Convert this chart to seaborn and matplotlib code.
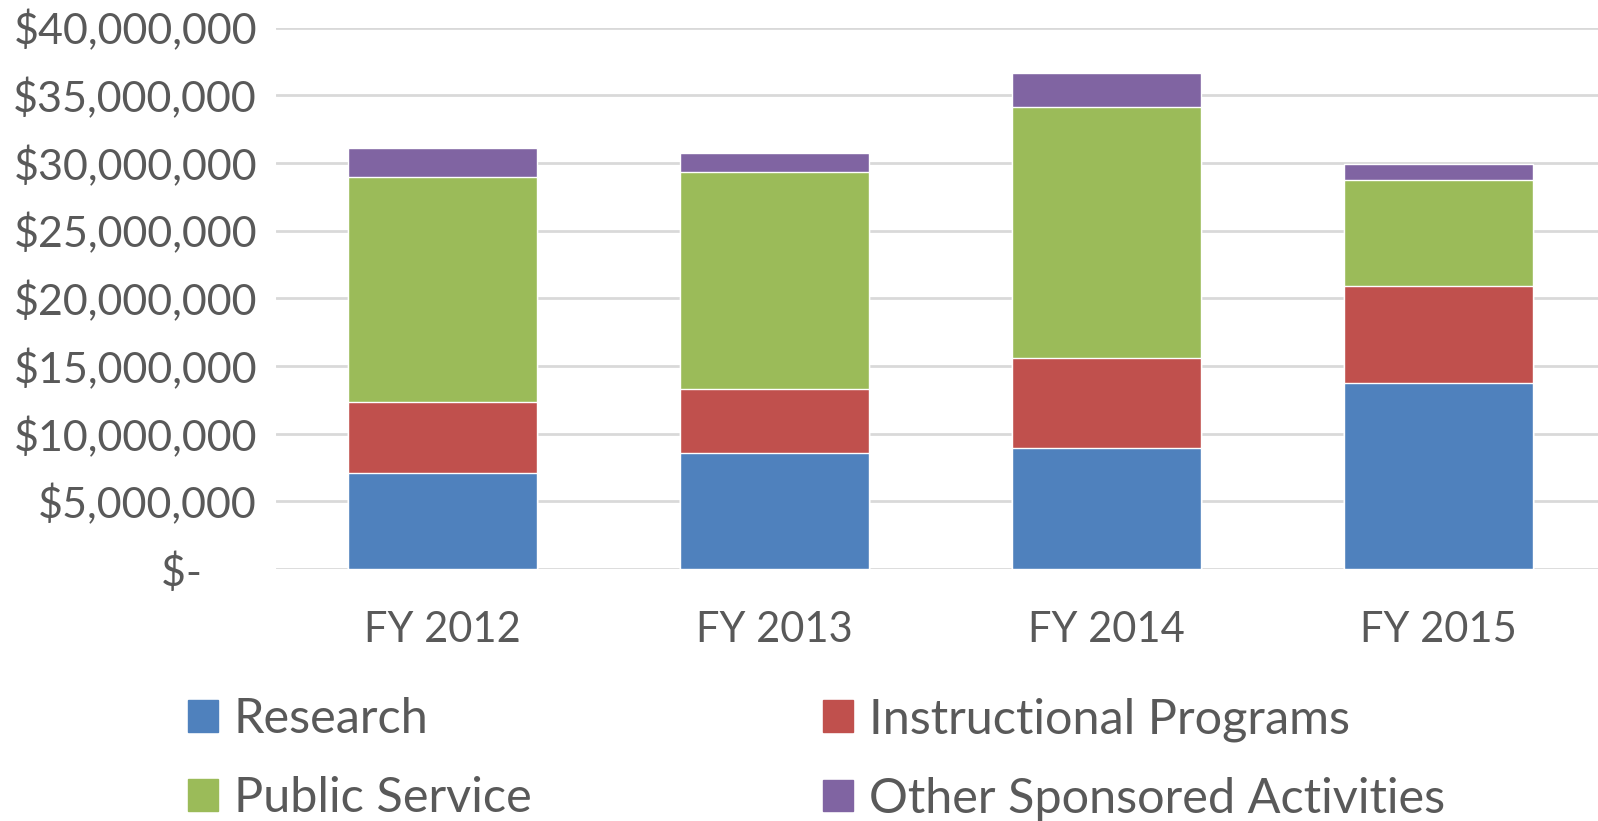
import numpy as np
import pandas as pd
import matplotlib
matplotlib.use('Agg')
import matplotlib.pyplot as plt
from matplotlib.patches import Patch
from matplotlib.ticker import FuncFormatter
import seaborn as sns

years = ['FY 2012', 'FY 2013', 'FY 2014', 'FY 2015']
research = [7.09e6, 8.59e6, 8.95e6, 13.73e6]
instructional = [5.25e6, 4.69e6, 6.67e6, 7.20e6]
public_service = [16.59e6, 16.07e6, 18.50e6, 7.83e6]
other = [2.17e6, 1.36e6, 2.49e6, 1.16e6]

series = ['Research', 'Instructional Programs', 'Public Service', 'Other Sponsored Activities']
colors = ['#4F81BD', '#C0504D', '#9BBB59', '#8064A2']

df = pd.DataFrame({'year': years, 'Research': research,
                   'Instructional Programs': instructional,
                   'Public Service': public_service,
                   'Other Sponsored Activities': other})
cum = df[series].cumsum(axis=1)
cum['year'] = df['year']

sns.set_style('white')
plt.rcParams['font.family'] = ['Lato', 'DejaVu Sans']
text_color = '#595959'

fig = plt.figure(figsize=(15.98, 8.21), dpi=100)
ax = fig.add_axes([0.173, 0.307, 0.831, 0.6595])

# stacked bars: draw the cumulative totals from the top layer down
for name, col in reversed(list(zip(series, colors))):
    sns.barplot(data=cum, x='year', y=name, color=col, width=0.57,
                saturation=1, ax=ax, zorder=3)

ax.set_xlim(-0.5, 3.5)
ax.set_ylim(0, 40e6)
ax.set_yticks(np.arange(0, 40e6 + 1, 5e6))
ax.yaxis.set_major_formatter(FuncFormatter(
    lambda v, p: '$-     ' if v == 0 else '${:,.0f}'.format(v)))
ax.grid(axis='y', color='#D9D9D9', linewidth=2, zorder=0)
ax.set_axisbelow(True)
for s in ax.spines.values():
    s.set_visible(False)
ax.tick_params(axis='both', length=0, labelsize=30, labelcolor=text_color)
ax.tick_params(axis='y', labelsize=31, pad=14)
ax.tick_params(axis='x', pad=30)
ax.set_xlabel('')
ax.set_ylabel('')

handles = [Patch(color=c) for c in colors]
order = [0, 2, 1, 3]
fig.legend([handles[i] for i in order], [series[i] for i in order],
           loc='upper left', bbox_to_anchor=(0.1176, 0.151), ncol=2,
           frameon=False, fontsize=35, handlelength=0.62, handleheight=0.62,
           handletextpad=0.32, columnspacing=6.0, labelspacing=0.72,
           borderpad=0, borderaxespad=0, labelcolor=text_color)

fig.savefig('out.png', dpi=100)
